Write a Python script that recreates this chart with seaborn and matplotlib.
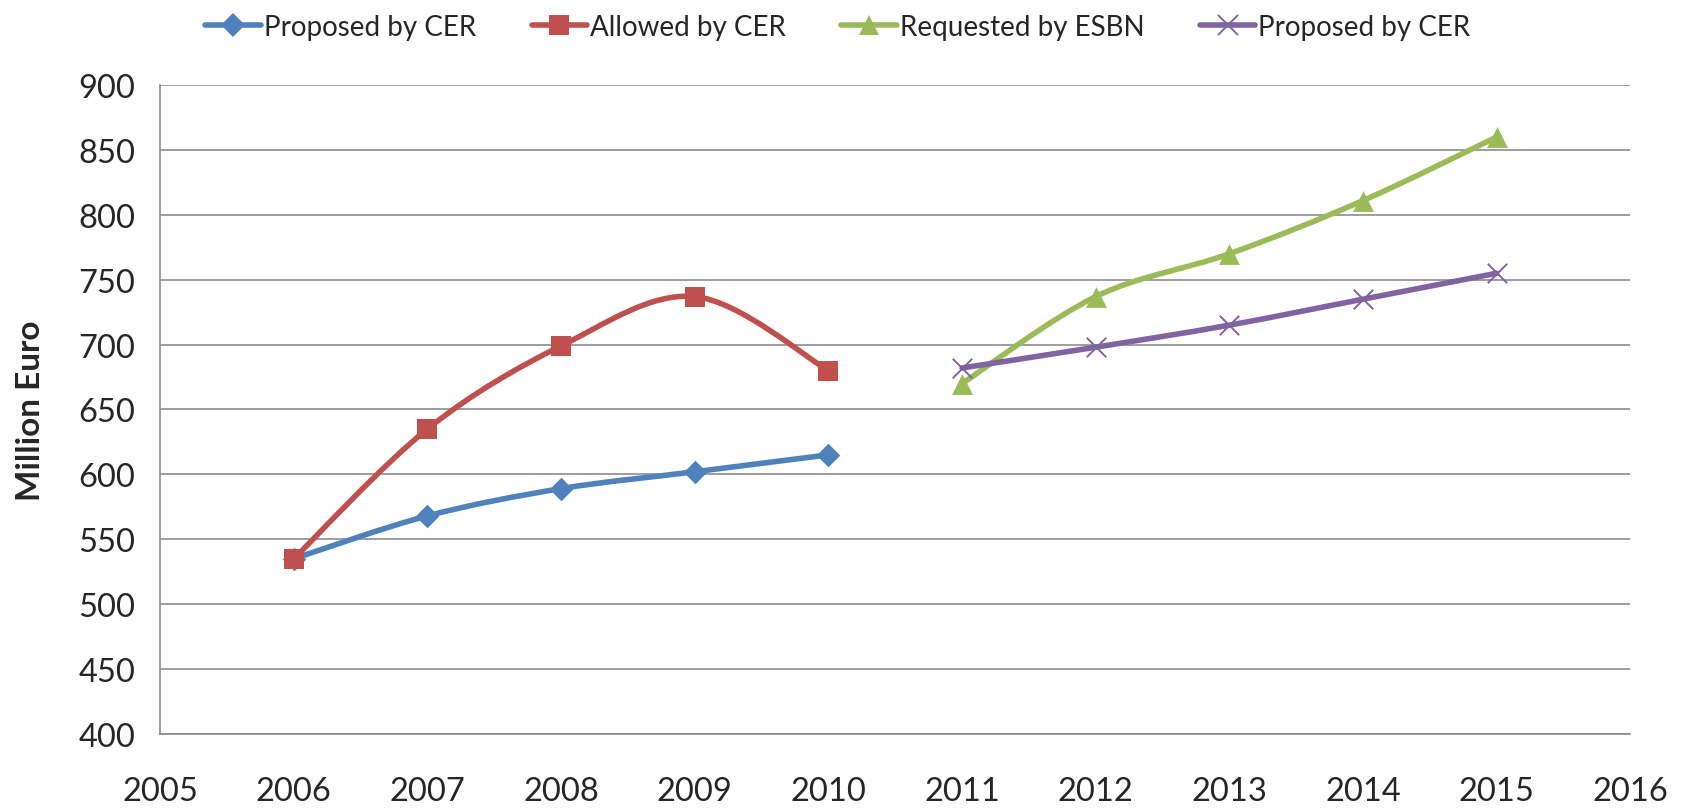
import numpy as np
import matplotlib
matplotlib.use('Agg')
import matplotlib.pyplot as plt
import seaborn as sns
from matplotlib.path import Path
from matplotlib.patches import PathPatch
from matplotlib.lines import Line2D

sns.set_style("white")
plt.rcParams['font.family'] = ['Lato', 'DejaVu Sans']

# data
years_a = [2006, 2007, 2008, 2009, 2010]
proposed_cer_a = [535, 568, 589, 602, 615]
allowed_cer = [535, 635, 699, 737, 680]

years_b = [2011, 2012, 2013, 2014, 2015]
requested_esbn = [670, 737, 770, 811, 860]
proposed_cer_b = [682, 698, 715, 735, 755]

labels = ['Proposed by CER', 'Allowed by CER', 'Requested by ESBN', 'Proposed by CER']
colors = ['#4F81BD', '#C0504D', '#9BBB59', '#8064A2']
markers = ['D', 's', '^', 'x']
msizes = [12, 14.5, 15, 14]


def smooth_path(x, y):
    # Excel style smoothed line: cubic bezier with catmull-rom control points
    pts = np.column_stack([x, y]).astype(float)
    n = len(pts)
    verts = [pts[0]]
    codes = [Path.MOVETO]
    for i in range(n - 1):
        p0 = pts[i - 1] if i > 0 else pts[i]
        p1 = pts[i]
        p2 = pts[i + 1]
        p3 = pts[i + 2] if i + 2 < n else pts[i + 1]
        c1 = p1 + (p2 - p0) / 6.0
        c2 = p2 - (p3 - p1) / 6.0
        verts += [c1, c2, p2]
        codes += [Path.CURVE4] * 3
    return Path(verts, codes)


fig = plt.figure(figsize=(16.86, 8.12), dpi=100)
ax = fig.add_axes([0.095, 0.095, 0.872, 0.799])

series = [
    (years_a, proposed_cer_a),
    (years_a, allowed_cer),
    (years_b, requested_esbn),
    (years_b, proposed_cer_b),
]

for (xs, ys), c, m, ms in zip(series, colors, markers, msizes):
    patch = PathPatch(smooth_path(xs, ys), fill=False, edgecolor=c, lw=4,
                      capstyle='round', joinstyle='round', zorder=3)
    ax.add_patch(patch)
    if m == 'x':
        sns.scatterplot(x=xs, y=ys, ax=ax, marker='x', color=c, s=ms ** 2,
                        linewidth=1.4, zorder=4)
    else:
        sns.scatterplot(x=xs, y=ys, ax=ax, marker=m, color=c, s=ms ** 2,
                        linewidth=0, zorder=4)

ax.set_xlim(2005, 2016)
ax.set_ylim(400, 900)
ax.set_xticks(range(2005, 2017))
ax.set_yticks(range(400, 901, 50))
ax.yaxis.grid(True, color='#8C8C8C', lw=1.2)
ax.xaxis.grid(False)
for side in ['top', 'right']:
    ax.spines[side].set_visible(False)
for side in ['left', 'bottom']:
    ax.spines[side].set_color('#8C8C8C')
    ax.spines[side].set_linewidth(1.2)
ax.tick_params(axis='x', direction='out', length=8, width=1.2, color='#8C8C8C',
               labelsize=23.5, pad=22)
ax.tick_params(axis='y', direction='out', length=8, width=1.2, color='#8C8C8C',
               labelsize=23.5, pad=10)
ax.set_ylabel('Million Euro', fontsize=24, fontweight='bold')
ax.yaxis.set_label_coords(-0.078, 0.5)

handles = []
for c, m, ms, lab in zip(colors, markers, msizes, labels):
    handles.append(Line2D([0], [0], color=c, lw=4, marker=m, markersize=ms,
                          markeredgewidth=1.4 if m == 'x' else 0, label=lab))
fig.legend(handles=handles, loc='center', bbox_to_anchor=(0.497, 0.966), ncol=4,
           frameon=False, fontsize=20, handlelength=2.0, handletextpad=0.1,
           columnspacing=2.0)

fig.savefig('out.png', dpi=100)
